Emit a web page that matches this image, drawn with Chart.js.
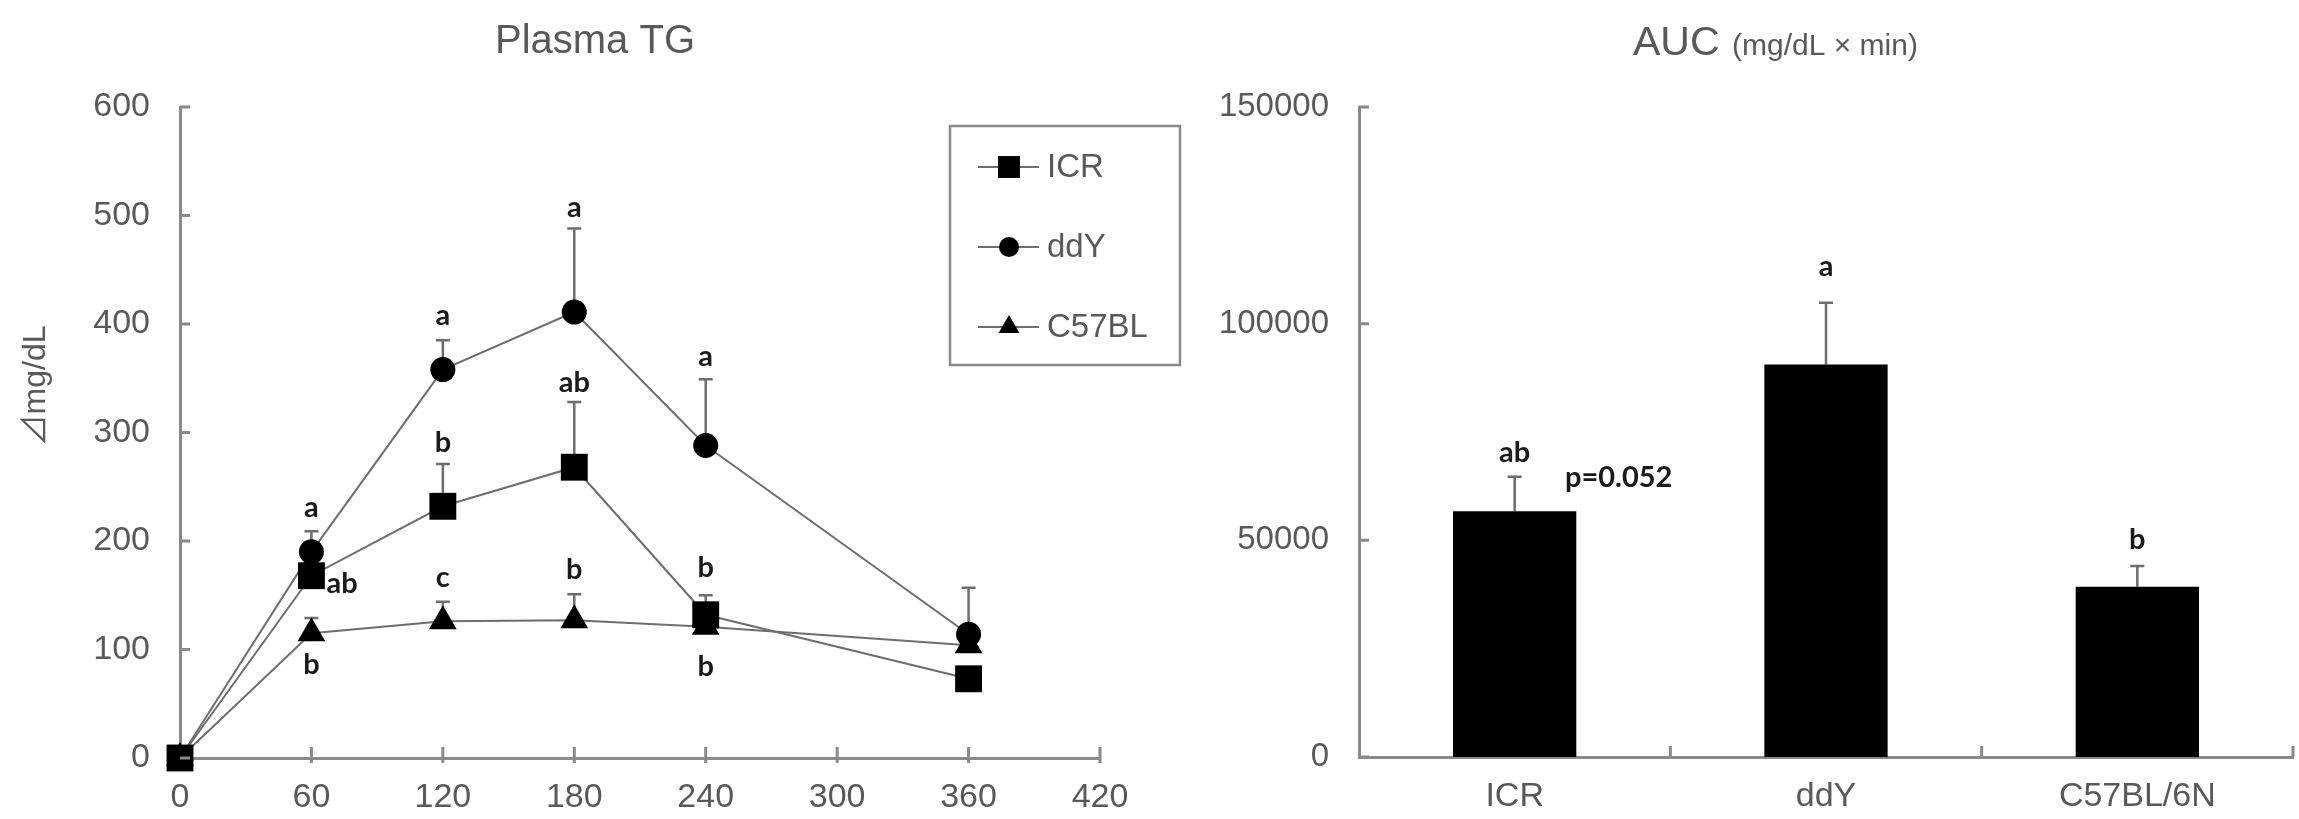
<!DOCTYPE html>
<html>
<head>
<meta charset="utf-8">
<script src="https://cdn.jsdelivr.net/npm/chart.js@4.4.1/dist/chart.umd.min.js"></script>
<style>
  html, body { margin: 0; padding: 0; background: #fff; }
  body { width: 2299px; height: 819px; position: relative; overflow: hidden; }
  #tgChart { position: absolute; left: 0; top: 0; }
  #aucChart { position: absolute; left: 1200px; top: 0; }
</style>
</head>
<body>
<canvas id="tgChart" width="1200" height="819"></canvas>
<canvas id="aucChart" width="1099" height="819"></canvas>
<script>
// ---- data: plasma TG time course ----
const minutes = [0, 60, 120, 180, 240, 360];
const tgXTicks = [0, 60, 120, 180, 240, 300, 360, 420];
const tgYTicks = [0, 100, 200, 300, 400, 500, 600];
const icrTG = [0, 168, 232, 268, 132, 73];
const ddyTG = [0, 190, 358, 411, 288, 114];
const c57TG = [0, 115, 126, 127, 121, 104];
const icrTGErr = [null, null, 271, 328, 150, null];
const ddyTGErr = [null, 209, 385, 488, 349, 157];
const c57TGErr = [null, 129, 144, 151, null, null];
const tgLetterX = [60, 74, 60, 120, 120, 120, 180, 180, 180, 240, 240, 240];
const tgLetterY = [231, 161, 86, 408, 291, 166, 507, 346, 174, 370, 175, 84];
const tgLetterText = ['a', 'ab', 'b', 'a', 'b', 'c', 'a', 'ab', 'b', 'a', 'b', 'b'];

// ---- data: AUC ----
const strains = ['ICR', 'ddY', 'C57BL/6N'];
const aucYTicks = [0, 50000, 100000, 150000];
const auc = [56700, 90600, 39300];
const aucErr = [64700, 104800, 44100];
const aucLetterText = ['ab', 'a', 'b'];
const aucLetterY = [70200, 113200, 50200];
const pNote = 'p=0.052';
const pNoteY = 64400;

const FONT = '"Liberation Sans", Arial, sans-serif';
const NOTE_FONT = 'Lato, "Open Sans", sans-serif';
const AXIS = '#8a8a8a';
const TEXT = '#595959';
const LINE = '#6e6e6e';

const fixedTicks = list => s => { s.ticks = list.map(v => ({ value: v })); };

// small tick marks on the axes (inside the plot, like the original)
const axisTicks = {
    id: 'axisTicks',
    afterDraw(chart, args, opts) {
        const ctx = chart.ctx, xs = chart.scales.x, ys = chart.scales.y;
        ctx.save();
        ctx.strokeStyle = AXIS;
        ctx.lineWidth = 3;
        ctx.beginPath();
        ys.ticks.forEach(t => {
            const py = ys.getPixelForValue(t.value);
            ctx.moveTo(ys.right, py);
            ctx.lineTo(ys.right + 10, py);
        });
        let xp = [];
        if (opts.between) {
            const n = chart.data.labels.length;
            for (let i = 0; i < n; i++) {
                const a = xs.getPixelForValue(i);
                const b = i + 1 < n ? xs.getPixelForValue(i + 1) : 2 * a - xs.getPixelForValue(i - 1);
                xp.push((a + b) / 2);
            }
        } else {
            xp = xs.ticks.filter(t => t.value > 0).map(t => xs.getPixelForValue(t.value));
        }
        xp.forEach(px => {
            ctx.moveTo(px, xs.top - 11);
            ctx.lineTo(px, xs.top + (opts.between ? 0 : 5));
        });
        ctx.stroke();
        ctx.restore();
    }
};

// upper error bars, drawn under the markers / bars
const errorBars = {
    id: 'errorBars',
    beforeDatasetsDraw(chart) {
        const ctx = chart.ctx, ys = chart.scales.y;
        ctx.save();
        ctx.strokeStyle = LINE;
        ctx.lineWidth = 2.5;
        chart.data.datasets.forEach((ds, i) => {
            if (!ds.errTop) return;
            chart.getDatasetMeta(i).data.forEach((el, j) => {
                const top = ds.errTop[j];
                if (top == null) return;
                const yt = ys.getPixelForValue(top);
                ctx.beginPath();
                ctx.moveTo(el.x, el.y);
                ctx.lineTo(el.x, yt);
                ctx.moveTo(el.x - 7, yt);
                ctx.lineTo(el.x + 7, yt);
                ctx.stroke();
            });
        });
        ctx.restore();
    }
};

// significance letters
const letters = {
    id: 'letters',
    afterDatasetsDraw(chart, args, opts) {
        const ctx = chart.ctx, xs = chart.scales.x, ys = chart.scales.y;
        ctx.save();
        ctx.fillStyle = '#1a1a1a';
        ctx.font = `bold ${opts.size}px ${NOTE_FONT}`;
        ctx.textAlign = 'center';
        ctx.textBaseline = 'middle';
        opts.text.forEach((t, i) => {
            ctx.fillText(t, xs.getPixelForValue(opts.x[i]), ys.getPixelForValue(opts.y[i]));
        });
        if (opts.note) {
            const el = chart.getDatasetMeta(0).data[0];
            ctx.fillText(opts.note, el.x + 104, ys.getPixelForValue(opts.noteY));
        }
        ctx.restore();
    }
};

// free text: titles and axis title
const texts = {
    id: 'texts',
    afterDraw(chart, args, opts) {
        const ctx = chart.ctx;
        opts.items.forEach(it => {
            ctx.save();
            ctx.fillStyle = TEXT;
            ctx.font = `${it.size}px ${it.family || FONT}`;
            ctx.textAlign = it.align || 'center';
            ctx.textBaseline = it.baseline || 'alphabetic';
            ctx.translate(it.x, it.y);
            if (it.rotate) ctx.rotate(it.rotate);
            ctx.fillText(it.text, 0, 0);
            ctx.restore();
        });
    }
};

// boxed legend with line-through-marker samples
const boxLegend = {
    id: 'boxLegend',
    afterDraw(chart, args, opts) {
        const ctx = chart.ctx;
        ctx.save();
        ctx.strokeStyle = AXIS;
        ctx.lineWidth = 2.5;
        ctx.strokeRect(opts.left, opts.top, opts.width, opts.height);
        chart.data.datasets.forEach((ds, i) => {
            const y = opts.top + 41 + i * 80;
            ctx.strokeStyle = LINE;
            ctx.lineWidth = 2;
            ctx.beginPath();
            ctx.moveTo(opts.left + 28, y);
            ctx.lineTo(opts.left + 89, y);
            ctx.stroke();
            ctx.fillStyle = '#000';
            Chart.helpers.drawPoint(ctx, { pointStyle: ds.pointStyle, radius: ds.legendRadius, borderWidth: 0, rotation: 0 }, opts.left + 59, y);
            ctx.fillStyle = TEXT;
            ctx.font = `33px ${FONT}`;
            ctx.textAlign = 'left';
            ctx.textBaseline = 'middle';
            ctx.fillText(ds.label, opts.left + 97, y + 1);
        });
        ctx.restore();
    }
};

function series(label, values, err, style, radius, legendRadius) {
    return {
        label: label,
        data: minutes.map((m, i) => ({ x: m, y: values[i] })),
        errTop: err,
        borderColor: LINE,
        borderWidth: 2,
        pointStyle: style,
        pointRadius: radius,
        pointBackgroundColor: '#000',
        pointBorderColor: '#000',
        pointBorderWidth: 0,
        legendRadius: legendRadius,
        clip: false,
        tension: 0
    };
}

const tickFont = { family: FONT, size: 34 };

new Chart(document.getElementById('tgChart'), {
    type: 'line',
    data: {
        datasets: [
            series('ICR', icrTG, icrTGErr, 'rect', 19, 15.5),
            series('ddY', ddyTG, ddyTGErr, 'circle', 12.5, 10),
            series('C57BL', c57TG, c57TGErr, 'triangle', 16, 12)
        ]
    },
    options: {
        responsive: false,
        animation: false,
        devicePixelRatio: 1,
        layout: { padding: { left: 0, top: 107, right: 100, bottom: 0 } },
        scales: {
            x: {
                type: 'linear', min: 0, max: 420,
                afterBuildTicks: fixedTicks(tgXTicks),
                afterFit: s => { s.height = 61; },
                grid: { display: false, drawTicks: false },
                border: { color: AXIS, width: 3 },
                ticks: { font: tickFont, color: TEXT, padding: 19, maxRotation: 0 }
            },
            y: {
                min: 0, max: 600,
                afterBuildTicks: fixedTicks(tgYTicks),
                afterFit: s => { s.width = 180; },
                grid: { display: false, drawTicks: false },
                border: { color: AXIS, width: 3 },
                ticks: { font: tickFont, color: TEXT, padding: 30 }
            }
        },
        plugins: {
            legend: { display: false },
            tooltip: { enabled: false },
            axisTicks: { between: false },
            letters: { x: tgLetterX, y: tgLetterY, text: tgLetterText, size: 29 },
            boxLegend: { left: 950, top: 126, width: 230, height: 239 },
            texts: {
                items: [
                    { text: 'Plasma TG', x: 595, y: 53, size: 40 },
                    { text: '\u22BFmg/dL', x: 36, y: 386, size: 32, baseline: 'middle', rotate: -Math.PI / 2, family: '"Liberation Sans", "Noto Sans CJK JP", sans-serif' }
                ]
            }
        }
    },
    plugins: [axisTicks, errorBars, letters, boxLegend, texts]
});

new Chart(document.getElementById('aucChart'), {
    type: 'bar',
    data: {
        labels: strains,
        datasets: [{
            label: 'AUC',
            data: auc,
            errTop: aucErr,
            backgroundColor: '#000',
            borderWidth: 0,
            categoryPercentage: 1,
            barPercentage: 0.396
        }]
    },
    options: {
        responsive: false,
        animation: false,
        devicePixelRatio: 1,
        layout: { padding: { left: 0, top: 107, right: 6, bottom: 0 } },
        scales: {
            x: {
                afterFit: s => { s.height = 62; },
                grid: { display: false, drawTicks: false },
                border: { color: AXIS, width: 3 },
                ticks: { font: tickFont, color: TEXT, padding: 19 }
            },
            y: {
                min: 0, max: 150000,
                afterBuildTicks: fixedTicks(aucYTicks),
                afterFit: s => { s.width = 159; },
                grid: { display: false, drawTicks: false },
                border: { color: AXIS, width: 3 },
                ticks: { font: { family: FONT, size: 33 }, color: TEXT, padding: 30, callback: v => String(v) }
            }
        },
        plugins: {
            legend: { display: false },
            tooltip: { enabled: false },
            axisTicks: { between: true },
            letters: { x: [0, 1, 2], y: aucLetterY, text: aucLetterText, size: 29, note: pNote, noteY: pNoteY },
            texts: {
                items: [
                    { text: 'AUC', x: 433, y: 55, size: 41, align: 'left' },
                    { text: '(mg/dL \u00D7 min)', x: 532, y: 55, size: 30, align: 'left' }
                ]
            }
        }
    },
    plugins: [axisTicks, errorBars, letters, texts]
});
</script>
</body>
</html>
